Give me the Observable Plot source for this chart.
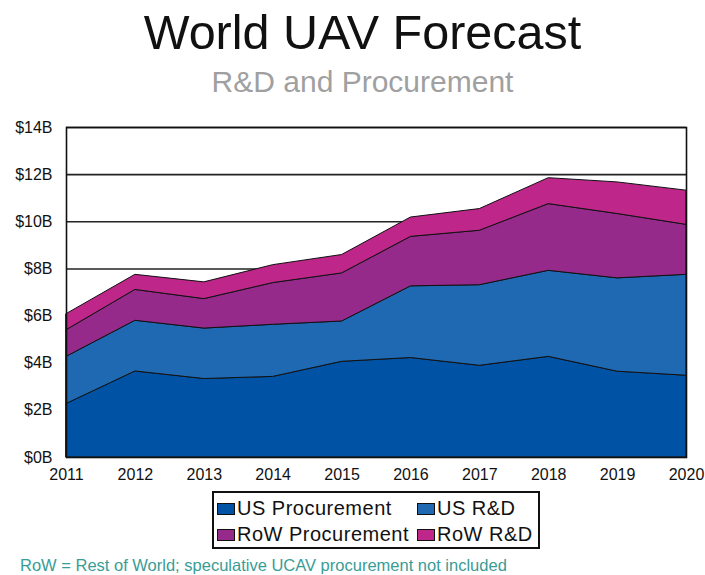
<!DOCTYPE html>
<html>
<head>
<meta charset="utf-8">
<script src="https://cdn.jsdelivr.net/npm/d3@7"></script>
<script src="https://cdn.jsdelivr.net/npm/@observablehq/plot@0.6"></script>
<style>
  html, body { margin: 0; padding: 0; background: #fff; }
  body { width: 705px; height: 575px; position: relative; overflow: hidden; font-family: "Liberation Sans", Arial, sans-serif; }
  .abs { position: absolute; white-space: nowrap; }
  #title { left: 0; width: 725px; text-align: center; top: 4px; font-size: 48.5px; color: #111; }
  #subtitle { left: 0; width: 725px; text-align: center; top: 65px; font-size: 30px; color: #a0a0a0; }
  #units { left: 66px; top: 107px; font-size: 13px; color: #222; }
  #chart { position: absolute; left: 0; top: 100px; }
  #legend { left: 212px; top: 491px; width: 324px; height: 54px; border: 2px solid #111; }
  .item { position: absolute; display: flex; align-items: center; font-size: 20px; letter-spacing: 0.5px; color: #111; }
  .sw { width: 16px; height: 10px; border: 1px solid #111; margin-right: 2px; }
  #note { left: 20px; top: 556px; font-size: 16.5px; color: #3a9c96; }
</style>
</head>
<body>
<div id="title" class="abs">World UAV Forecast</div>
<div id="subtitle" class="abs">R&amp;D and Procurement</div>
<div id="units" class="abs">($ Billions)</div>
<div id="chart"></div>
<div id="legend" class="abs"></div>
<div id="note" class="abs">RoW = Rest of World; speculative UCAV procurement not included</div>
<script>
const years = [2011, 2012, 2013, 2014, 2015, 2016, 2017, 2018, 2019, 2020];
const seriesNames = ["US Procurement", "US R&D", "RoW Procurement", "RoW R&D"];
const seriesColors = ["#0052a4", "#1f69b3", "#952a8a", "#be268a"];
const usProcurement = [2.27, 3.65, 3.33, 3.42, 4.06, 4.22, 3.89, 4.27, 3.64, 3.47];
const usRD = [2.00, 2.15, 2.14, 2.21, 1.71, 3.04, 3.42, 3.65, 3.96, 4.28];
const rowProcurement = [1.13, 1.31, 1.25, 1.77, 2.04, 2.10, 2.31, 2.83, 2.73, 2.12];
const rowRD = [0.68, 0.64, 0.71, 0.76, 0.78, 0.82, 0.92, 1.10, 1.34, 1.45];
const yTicks = [0, 2, 4, 6, 8, 10, 12, 14];

const seriesValues = [usProcurement, usRD, rowProcurement, rowRD];
const data = [];
seriesNames.forEach((s, i) => {
  years.forEach((yr, j) => data.push({year: yr, series: s, value: seriesValues[i][j]}));
});

const chart = Plot.plot({
  width: 705,
  height: 390,
  marginTop: 27,
  marginBottom: 33,
  marginLeft: 66,
  marginRight: 19,
  style: {fontFamily: "'Liberation Sans', Arial, sans-serif", fontSize: "16px", color: "#111", background: "#fff"},
  x: {domain: [2011, 2020]},
  y: {domain: [0, 14]},
  color: {domain: seriesNames, range: seriesColors},
  marks: [
    Plot.ruleY(yTicks.slice(1), {stroke: "#222", strokeWidth: 1.6}),
    Plot.areaY(data, {x: "year", y: "value", fill: "series", order: seriesNames, stroke: "#111", strokeWidth: 1, strokeLinejoin: "round"}),
    Plot.frame({stroke: "#111", strokeWidth: 1.6}),
    Plot.axisY({ticks: yTicks, tickFormat: d => `$${d}B`, tickSize: 0, tickPadding: 14, label: null, fontSize: 16}),
    Plot.axisX({ticks: years, tickFormat: d => String(d), tickSize: 0, tickPadding: 11, label: null, fontSize: 16})
  ]
});
document.getElementById("chart").appendChild(chart);

const legend = document.getElementById("legend");
const pos = [[3, 4], [203, 4], [3, 30], [203, 30]];
seriesNames.forEach((s, i) => {
  const it = document.createElement("div");
  it.className = "item";
  it.style.left = pos[i][0] + "px";
  it.style.top = pos[i][1] + "px";
  const sw = document.createElement("div");
  sw.className = "sw";
  sw.style.background = seriesColors[i];
  const tx = document.createElement("span");
  tx.textContent = s;
  it.appendChild(sw);
  it.appendChild(tx);
  legend.appendChild(it);
});
</script>
</body>
</html>
